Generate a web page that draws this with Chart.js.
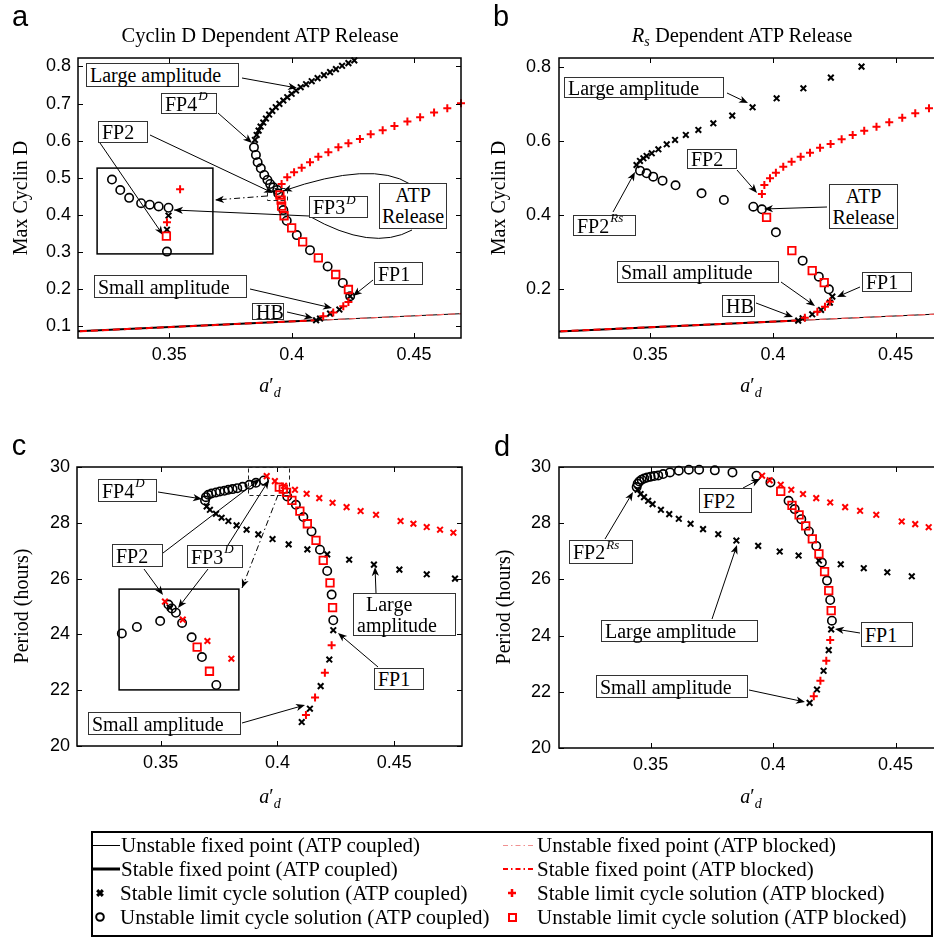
<!DOCTYPE html>
<html><head><meta charset="utf-8">
<script src="https://cdn.jsdelivr.net/npm/chart.js@4.4.1/dist/chart.umd.min.js"></script>
<style>
html,body{margin:0;padding:0;background:#fff;}
body{width:934px;height:939px;overflow:hidden;position:relative;font-family:"Liberation Serif","Times New Roman",serif;color:#000;}
canvas{position:absolute;}
.t{position:absolute;white-space:nowrap;line-height:1;transform:translate(-50%,-50%);z-index:5;}
.rot{transform:translate(-50%,-50%) rotate(-90deg);}
.letter{font-family:"Liberation Sans",Arial,sans-serif;font-size:29px;}
.title{font-size:20.5px;}
.lab{font-size:20px;}
.box{position:absolute;box-sizing:border-box;border:1px solid #333;background:#fff;font-size:20px;display:flex;align-items:center;padding-left:3px;white-space:nowrap;line-height:1;z-index:5;}
.box.c2{flex-direction:column;justify-content:center;align-items:center;padding-left:0;line-height:1.05;}
.box.l2{flex-direction:column;justify-content:center;align-items:flex-start;line-height:1.05;}
.sup{font-size:13px;font-style:italic;position:relative;top:-8px;margin-left:1px;}
.sub{font-size:14px;font-style:italic;position:relative;top:5px;}
#legend{position:absolute;left:91px;top:831px;width:842px;height:106px;box-sizing:border-box;border:2px solid #000;z-index:4;}
.lt{position:absolute;font-size:21px;white-space:nowrap;line-height:1;transform:translateY(-50%);}
</style>
</head>
<body>
<canvas id="ca" width="470" height="400" style="left:0;top:0;z-index:1"></canvas>
<canvas id="cb" width="480" height="400" style="left:470px;top:0;z-index:1"></canvas>
<canvas id="cc" width="470" height="400" style="left:0;top:400px;z-index:1"></canvas>
<canvas id="cd" width="480" height="400" style="left:470px;top:400px;z-index:1"></canvas>
<canvas id="ia" width="130" height="100" style="left:90px;top:161px;z-index:2"></canvas>
<canvas id="ic" width="134" height="115" style="left:112px;top:582px;z-index:2"></canvas>
<div id="legend"><canvas id="lg" width="838" height="102" style="left:0;top:0"></canvas></div>
<script>
// ================= DATA =================
const xTickValues = [0.35, 0.4, 0.45];
const xTickLabels = ['0.35', '0.4', '0.45'];
const yTickValuesA = [0.1, 0.2, 0.3, 0.4, 0.5, 0.6, 0.7, 0.8];
const yTickLabelsA = ['0.1', '0.2', '0.3', '0.4', '0.5', '0.6', '0.7', '0.8'];
const yTickValuesB = [0.2, 0.4, 0.6, 0.8];
const yTickLabelsB = ['0.2', '0.4', '0.6', '0.8'];
const yTickValuesCD = [20, 22, 24, 26, 28, 30];
const yTickLabelsCD = ['20', '22', '24', '26', '28', '30'];

// fixed point branch (Max Cyclin D vs a'_d), HB at 0.41
const fixedStable = [[0.300, 0.0826], [0.410, 0.1160]];
const fixedUnstable = [[0.410, 0.1160], [0.480, 0.1372]];

// ---- panel a: Cyclin D dependent, Max Cyclin D ----
const aStableCoupled = [[0.3850,0.602],[0.3857,0.6155],[0.3865,0.627],[0.3873,0.638],[0.3884,0.6488],[0.3895,0.6596],[0.3908,0.6704],[0.3921,0.6803],[0.3935,0.6902],[0.3950,0.6992],[0.3966,0.7082],[0.3982,0.7172],[0.4000,0.7262],[0.4018,0.7351],[0.4037,0.7441],[0.4059,0.7522],[0.4082,0.7603],[0.4106,0.7684],[0.4132,0.7765],[0.4157,0.7846],[0.4181,0.7927],[0.4206,0.8017],[0.4232,0.8089],[0.4256,0.8161],
  [0.4100,0.1160],[0.4116,0.1208],[0.4157,0.1340],[0.4195,0.1450],[0.4239,0.1810]];
const aUnstableCoupled = [[0.3846,0.582],[0.3854,0.5616],[0.3861,0.5418],[0.3874,0.5256],[0.3888,0.5076],[0.3901,0.4941],[0.3912,0.4833],[0.3925,0.4743],[0.3941,0.4671],[0.3945,0.4580],
  [0.3966,0.4131],[0.3980,0.3842],[0.4021,0.3456],[0.4075,0.3051],[0.4147,0.2611],[0.4209,0.2169],[0.4239,0.1810]];
const aStableBlocked = [[0.3959,0.4832],[0.3982,0.5012],[0.4010,0.5147],[0.4041,0.5273],[0.4075,0.5417],[0.4109,0.5570],[0.4150,0.5687],[0.4191,0.5822],[0.4232,0.5930],[0.4279,0.6047],[0.4323,0.6173],[0.4372,0.6281],[0.4420,0.6398],[0.4473,0.6515],[0.4525,0.6632],[0.4582,0.6758],[0.4636,0.6875],[0.4692,0.7010],
  [0.4129,0.1270],[0.4170,0.1370],[0.4211,0.1540],[0.4232,0.1656]];
const aUnstableBlocked = [[0.3952,0.4536],[0.3957,0.4400],[0.3959,0.4239],[0.3969,0.3977],[0.4000,0.3653],[0.4045,0.3275],[0.4109,0.2843],[0.4180,0.2395],[0.4232,0.1990]];
// inset of panel a (magnified region near FP2 / FP3^D)
const aInsetUnstableCoupled = [[0.39077,0.4840],[0.39120,0.4785],[0.39166,0.4744],[0.39228,0.4716],[0.39273,0.4708],[0.39319,0.4699],[0.39370,0.4692],[0.39362,0.4462]];
const aInsetStableCoupled = [[0.39370,0.4651],[0.39362,0.4577]];
const aInsetStableBlocked = [[0.39362,0.4616],[0.39430,0.4789]];
const aInsetUnstableBlocked = [[0.39359,0.4543]];

// ---- panel b: Rs dependent, Max Cyclin D ----
const bStableCoupled = [[0.3444,0.5350],[0.3458,0.5458],[0.3472,0.5530],[0.3485,0.5593],[0.3506,0.5665],[0.3533,0.5773],[0.3567,0.5908],[0.3601,0.6024],[0.3645,0.6159],[0.3696,0.6294],[0.3757,0.6474],[0.3834,0.6680],[0.3917,0.6905],[0.4015,0.7148],[0.4124,0.7417],[0.4236,0.7705],[0.4361,0.8001],
  [0.4103,0.1155],[0.4121,0.1218],[0.4160,0.1325],[0.4196,0.1442],[0.4232,0.1640],[0.4242,0.1802]];
const bUnstableCoupled = [[0.3458,0.5198],[0.3485,0.5126],[0.3512,0.5036],[0.3550,0.4928],[0.3603,0.4803],[0.3709,0.4587],[0.3800,0.4407],[0.3920,0.4227],[0.3955,0.4156],[0.4012,0.3536],[0.4121,0.2772],[0.4187,0.2341],[0.4228,0.1999]];
const bStableBlocked = [[0.3955,0.4569],[0.3965,0.4812],[0.3988,0.4991],[0.4012,0.5144],[0.4042,0.5306],[0.4076,0.5440],[0.4113,0.5575],[0.4151,0.5683],[0.4192,0.5818],[0.4235,0.5917],[0.4280,0.6042],[0.4325,0.6159],[0.4372,0.6276],[0.4422,0.6384],[0.4474,0.6501],[0.4527,0.6626],[0.4580,0.6743],[0.4636,0.6878],
  [0.4130,0.1236],[0.4181,0.1397],[0.4212,0.1532],[0.4232,0.1667]];
const bUnstableBlocked = [[0.3974,0.3940],[0.4077,0.3042],[0.4160,0.2502],[0.4209,0.2179]];

// ---- panel c: Cyclin D dependent, Period (hours) ----
const cUnstableCoupled = [[0.3690,28.801],[0.3694,28.920],[0.3704,29.004],[0.3718,29.052],[0.3737,29.087],[0.3754,29.123],[0.3773,29.147],[0.3790,29.183],[0.3808,29.207],[0.3828,29.242],[0.3851,29.290],[0.3880,29.362],[0.3908,29.433],[0.3942,29.517],
  [0.4042,28.944],[0.4079,28.646],[0.4111,28.205],[0.4146,27.692],[0.4182,27.036],[0.4213,26.273],[0.4232,25.426],[0.4239,24.508]];
const cStableCoupled = [[0.3697,28.587],[0.3711,28.467],[0.3737,28.324],[0.3761,28.181],[0.3790,28.062],[0.3825,27.907],[0.3868,27.752],[0.3918,27.585],[0.3979,27.418],[0.4048,27.227],[0.4128,27.048],[0.4213,26.869],[0.4307,26.678],[0.4413,26.500],[0.4522,26.321],[0.4639,26.154],[0.4760,25.998],
  [0.4239,24.150],[0.4222,23.100],[0.4185,22.147],[0.4139,21.336],[0.4104,20.859]];
const cStableBlockedLarge = [[0.3954,29.672],[0.3989,29.493],[0.4028,29.326],[0.4075,29.183],[0.4125,29.040],[0.4179,28.885],[0.4236,28.718],[0.4296,28.563],[0.4356,28.420],[0.4422,28.288],[0.4527,28.062],[0.4582,27.966],[0.4639,27.847],[0.4696,27.752],[0.4753,27.644]];
const cStableBlockedSmall = [[0.4232,23.613],[0.4203,22.624],[0.4161,21.741],[0.4122,21.109]];
const cUnstableBlocked = [[0.4008,29.278],[0.4025,29.207],[0.4039,29.088],[0.4062,28.801],[0.4096,28.420],[0.4128,27.966],[0.4165,27.370],[0.4196,26.655],[0.4225,25.844],[0.4236,24.961]];
// inset of panel c (magnified region near the peak)
const cInsetUnstableCoupled = [[0.3879,29.556],[0.3901,29.621],[0.3935,29.680],[0.3947,29.845],[0.3952,29.806],[0.3958,29.763],[0.3967,29.661],[0.3981,29.517],[0.3996,29.319],[0.4017,29.039]];
const cInsetStableCoupled = [[0.3949,29.815]];
const cInsetStableBlockedLarge = [[0.3942,29.875],[0.3968,29.694],[0.4004,29.480],[0.4039,29.303]];
const cInsetUnstableBlocked = [[0.3989,29.418],[0.4007,29.177]];

// ---- panel d: Rs dependent, Period (hours) ----
const dUnstableCoupled = [[0.3443,29.285],[0.3447,29.404],[0.3454,29.487],[0.3463,29.547],[0.3474,29.594],[0.3486,29.630],[0.3500,29.654],[0.3515,29.678],[0.3531,29.701],[0.3551,29.749],[0.3579,29.808],[0.3615,29.868],[0.3656,29.904],[0.3698,29.904],[0.3762,29.880],[0.3834,29.808],[0.3932,29.690],[0.3989,29.452],
  [0.4063,28.798],[0.4088,28.501],[0.4115,28.144],[0.4146,27.704],[0.4176,27.193],[0.4199,26.599],[0.4220,25.957],[0.4233,25.267],[0.4240,24.530]];
const dStableCoupled = [[0.3447,29.190],[0.3459,29.036],[0.3473,28.929],[0.3490,28.798],[0.3508,28.679],[0.3542,28.477],[0.3576,28.323],[0.3615,28.156],[0.3663,27.978],[0.3714,27.788],[0.3776,27.609],[0.3850,27.383],[0.3939,27.193],[0.4027,26.991],[0.4104,26.848],[0.4187,26.670],[0.4276,26.539],[0.4370,26.397],[0.4466,26.254],[0.4566,26.111],
  [0.4237,24.221],[0.4227,23.484],[0.4206,22.747],[0.4179,22.081],[0.4149,21.606]];
const dStableBlockedLarge = [[0.3955,29.690],[0.3986,29.523],[0.4031,29.369],[0.4074,29.190],[0.4122,29.036],[0.4176,28.893],[0.4233,28.739],[0.4294,28.572],[0.4355,28.441],[0.4421,28.299],[0.4525,28.061],[0.4580,27.966],[0.4635,27.859]];
const dStableBlockedSmall = [[0.4233,23.841],[0.4217,23.104],[0.4193,22.391],[0.4166,21.844]];
const dUnstableBlocked = [[0.4031,29.131],[0.4077,28.632],[0.4106,28.299],[0.4133,27.906],[0.4160,27.443],[0.4187,26.908],[0.4210,26.278],[0.4227,25.600],[0.4237,24.887]];

// ================= STYLES / HELPERS =================
const RED = '#ff0000';
const ST = {
  xBlack: {ps:'crossRot', r:4, bw:2, c:'#000'},
  oBlack: {ps:'circle', r:4.2, bw:1.6, c:'#000'},
  plusRed: {ps:'cross', r:4, bw:2, c:RED},
  xRed: {ps:'crossRot', r:4, bw:2, c:RED},
  sqRed: {ps:'rect', r:5.3, bw:1.8, c:RED}
};
function P(arr){ return arr.map(p => ({x:p[0], y:p[1]})); }
function sc(arr, st){ return {data:P(arr), showLine:false, clip:false, pointStyle:st.ps, pointRadius:st.r, pointHoverRadius:st.r, pointBorderWidth:st.bw, pointBorderColor:st.c, pointBackgroundColor:'rgba(0,0,0,0)'}; }
function ln(arr, color, w, dash){ return {data:P(arr), showLine:true, borderColor:color, borderWidth:w, borderDash:dash||[], pointRadius:0, pointHoverRadius:0}; }

// ================= ANNOTATIONS (page pixel positions) =================
const ANN = {
  a: {
    arrows: [[242,78,297,88],[218,113,252,143],[150,135,273,193],[100,143,163,235],[250,289,332,308],[287,312,313,318],[373,280,353,296]],
    curves: [{p:[[410,184],[372,160],[283,191]], head:true}, {p:[[412,230],[372,252],[309,216]], then:[174,210]}],
    dashRects: [[267,188,287,200]],
    dashArrows: [[267,196,215,200]]
  },
  b: { arrows: [[727,93,748,103],[737,170,757,193],[827,207,764,209],[613,212,635,172],[781,282,815,306],[756,303,793,317],[860,287,837,297]] },
  c: {
    arrows: [[158,492,202,499],[163,553,260,479],[144,569,163,595],[228,545,269,480],[208,569,178,608],[376,593,375,567],[378,667,338,633],[242,723,305,705]],
    dashRects: [[248,467,289,495]],
    dashArrows: [[278,495,242,588]]
  },
  d: { arrows: [[743,488,760,479],[605,539,633,492],[712,619,737,545],[860,633,835,629],[749,690,805,702]] }
};

function arrowHead(ctx, x0, y0, x1, y1){
  const a = Math.atan2(y1-y0, x1-x0), c = Math.cos(a), s = Math.sin(a);
  const L = 9, W = 3.6, B = 6.5;
  ctx.beginPath();
  ctx.moveTo(x1, y1);
  ctx.lineTo(x1 - L*c + W*s, y1 - L*s - W*c);
  ctx.lineTo(x1 - B*c, y1 - B*s);
  ctx.lineTo(x1 - L*c - W*s, y1 - L*s + W*c);
  ctx.closePath(); ctx.fill();
}

const framePlugin = {
  id: 'frame',
  afterDatasetsDraw(chart, args, opts){
    const {ctx, chartArea:a} = chart;
    const xs = chart.scales.x, ys = chart.scales.y;
    ctx.save(); ctx.strokeStyle = '#000';
    if (opts.ticks) {
      ctx.lineWidth = 1; ctx.beginPath();
      xs.ticks.forEach(t => { const p = Math.round(xs.getPixelForValue(t.value)) + 0.5;
        ctx.moveTo(p, a.bottom); ctx.lineTo(p, a.bottom - 5); ctx.moveTo(p, a.top); ctx.lineTo(p, a.top + 5); });
      ys.ticks.forEach(t => { const p = Math.round(ys.getPixelForValue(t.value)) + 0.5;
        ctx.moveTo(a.left, p); ctx.lineTo(a.left + 5, p); ctx.moveTo(a.right, p); ctx.lineTo(a.right - 5, p); });
      ctx.stroke();
    }
    ctx.lineWidth = opts.lw || 1.5;
    ctx.strokeRect(a.left, a.top, a.right - a.left, a.bottom - a.top);
    ctx.restore();
  }
};

const annotPlugin = {
  id: 'annot',
  afterDraw(chart, args, opts){
    const def = ANN[opts.key]; if (!def) return;
    const ox = opts.ox, oy = opts.oy, ctx = chart.ctx;
    const X = v => v - ox, Y = v => v - oy;
    ctx.save();
    ctx.strokeStyle = '#000'; ctx.fillStyle = '#000'; ctx.lineWidth = 1;
    (def.arrows || []).forEach(([x0,y0,x1,y1]) => {
      const a = Math.atan2(y1-y0, x1-x0);
      ctx.beginPath(); ctx.moveTo(X(x0), Y(y0)); ctx.lineTo(X(x1) - 6*Math.cos(a), Y(y1) - 6*Math.sin(a)); ctx.stroke();
      arrowHead(ctx, X(x0), Y(y0), X(x1), Y(y1));
    });
    (def.curves || []).forEach(cv => {
      const [p0, p1, p2] = cv.p;
      ctx.beginPath(); ctx.moveTo(X(p0[0]), Y(p0[1]));
      ctx.quadraticCurveTo(X(p1[0]), Y(p1[1]), X(p2[0]), Y(p2[1]));
      if (cv.then) ctx.lineTo(X(cv.then[0]), Y(cv.then[1]));
      ctx.stroke();
      if (cv.head) arrowHead(ctx, X(p1[0]), Y(p1[1]), X(p2[0]), Y(p2[1]));
      if (cv.then) arrowHead(ctx, X(p2[0]), Y(p2[1]), X(cv.then[0]), Y(cv.then[1]));
    });
    ctx.setLineDash([4, 3]); ctx.strokeStyle = '#222';
    (def.dashRects || []).forEach(([l,t,r,b]) => { ctx.strokeRect(X(l)+0.5, Y(t)+0.5, r-l, b-t); });
    ctx.setLineDash([6, 3, 1.5, 3]); ctx.strokeStyle = '#000';
    (def.dashArrows || []).forEach(([x0,y0,x1,y1]) => {
      ctx.beginPath(); ctx.moveTo(X(x0), Y(y0)); ctx.lineTo(X(x1), Y(y1)); ctx.stroke();
      ctx.setLineDash([]); arrowHead(ctx, X(x0), Y(y0), X(x1), Y(y1)); ctx.setLineDash([6, 3, 1.5, 3]);
    });
    ctx.restore();
  }
};

function axis(a, isX){
  if (a.hidden) return {type:'linear', display:false, min:a.min, max:a.max};
  return {
    type:'linear', position: isX ? 'bottom' : 'left', min:a.min, max:a.max,
    grid:{display:false, drawTicks:false}, border:{display:false},
    afterBuildTicks: s => { s.ticks = a.ticks.map(v => ({value:v})); },
    afterFit: s => { if (isX) s.height = a.size; else s.width = a.size; },
    ticks:{autoSkip:false, maxRotation:0, minRotation:0, padding:a.pad, color:'#000',
      font:{family:'"Liberation Sans", Arial, Helvetica, sans-serif', size:18},
      callback:(v, i) => a.labels[i]}
  };
}

function makeChart(id, o){
  return new Chart(document.getElementById(id), {
    type:'scatter',
    data:{datasets:o.datasets},
    options:{
      responsive:false, animation:false, devicePixelRatio:1, events:[],
      layout:{padding:o.padding},
      plugins:{legend:{display:false}, tooltip:{enabled:false}, title:{display:false},
        frame:{ticks:o.frameTicks !== false, lw:o.lw || 1.5},
        annot:{key:o.key || '', ox:o.ox || 0, oy:o.oy || 0}},
      scales:{x:axis(o.x, true), y:axis(o.y, false)}
    },
    plugins:[framePlugin, annotPlugin]
  });
}

function fixedLines(){
  return [
    ln(fixedStable, RED, 2, [7, 4]),
    ln(fixedUnstable, '#ff6060', 1.2, [7, 4]),
    ln(fixedStable, '#000', 2),
    ln(fixedUnstable, '#000', 1)
  ];
}

// ---- panel a ----
makeChart('ca', {
  key:'a', ox:0, oy:0,
  padding:{left:0, top:58, right:9, bottom:0},
  x:{min:0.3127, max:0.4692, ticks:xTickValues, labels:xTickLabels, size:62, pad:6},
  y:{min:0.0684, max:0.8227, ticks:yTickValuesA, labels:yTickLabelsA, size:78, pad:7},
  datasets:[
    sc(aStableBlocked, ST.plusRed), sc(aUnstableBlocked, ST.sqRed),
    sc(aStableCoupled, ST.xBlack), sc(aUnstableCoupled, ST.oBlack),
    ...fixedLines()
  ]
});
// ---- panel b ----
makeChart('cb', {
  key:'b', ox:470, oy:0,
  padding:{left:0, top:58, right:8, bottom:0},
  x:{min:0.3128, max:0.4689, ticks:xTickValues, labels:xTickLabels, size:62, pad:6},
  y:{min:0.0687, max:0.8234, ticks:yTickValuesB, labels:yTickLabelsB, size:89, pad:8},
  datasets:[
    sc(bStableBlocked, ST.plusRed), sc(bUnstableBlocked, ST.sqRed),
    sc(bStableCoupled, ST.xBlack), sc(bUnstableCoupled, ST.oBlack),
    ...fixedLines()
  ]
});
// ---- panel c ----
makeChart('cc', {
  key:'c', ox:0, oy:400,
  padding:{left:0, top:67, right:8, bottom:0},
  x:{min:0.3142, max:0.4790, ticks:xTickValues, labels:xTickLabels, size:54, pad:6},
  y:{min:20, max:30, ticks:yTickValuesCD, labels:yTickLabelsCD, size:77, pad:7},
  datasets:[
    sc(cStableBlockedLarge, ST.xRed), sc(cStableBlockedSmall, ST.plusRed), sc(cUnstableBlocked, ST.sqRed),
    sc(cStableCoupled, ST.xBlack), sc(cUnstableCoupled, ST.oBlack)
  ]
});
// ---- panel d ----
makeChart('cd', {
  key:'d', ox:470, oy:400,
  padding:{left:0, top:67, right:6, bottom:0},
  x:{min:0.3126, max:0.4693, ticks:xTickValues, labels:xTickLabels, size:52, pad:6},
  y:{min:20, max:30, ticks:yTickValuesCD, labels:yTickLabelsCD, size:89, pad:8},
  datasets:[
    sc(dStableBlockedLarge, ST.xRed), sc(dStableBlockedSmall, ST.plusRed), sc(dUnstableBlocked, ST.sqRed),
    sc(dStableCoupled, ST.xBlack), sc(dUnstableCoupled, ST.oBlack)
  ]
});
// ---- insets ----
makeChart('ia', {
  frameTicks:false, padding:6,
  x:{hidden:true, min:0.3900, max:0.3960}, y:{hidden:true, min:0.445, max:0.490},
  datasets:[
    sc(aInsetStableBlocked, ST.plusRed), sc(aInsetUnstableBlocked, ST.sqRed),
    sc(aInsetStableCoupled, ST.xBlack), sc(aInsetUnstableCoupled, ST.oBlack)
  ]
});
makeChart('ic', {
  frameTicks:false, padding:6,
  x:{hidden:true, min:0.3875, max:0.4050}, y:{hidden:true, min:28.99, max:30.0},
  datasets:[
    sc(cInsetStableBlockedLarge, ST.xRed), sc(cInsetUnstableBlocked, ST.sqRed),
    sc(cInsetStableCoupled, ST.xBlack), sc(cInsetUnstableCoupled, ST.oBlack)
  ]
});

// ================= TEXT =================
function addText(html, cx, cy, cls){
  const d = document.createElement('div');
  d.className = 't ' + cls; d.innerHTML = html;
  d.style.left = cx + 'px'; d.style.top = cy + 'px';
  document.body.appendChild(d);
}
function addBox(l, t, r, b, html, cls){
  const d = document.createElement('div');
  d.className = 'box' + (cls ? ' ' + cls : ''); d.innerHTML = html;
  d.style.left = l + 'px'; d.style.top = t + 'px';
  d.style.width = (r - l) + 'px'; d.style.height = (b - t) + 'px';
  document.body.appendChild(d);
}
addText('a', 20, 16, 'letter'); addText('b', 501, 16, 'letter');
addText('c', 19, 445, 'letter'); addText('d', 502, 446, 'letter');
addText('Cyclin D Dependent ATP Release', 260, 35, 'title');
addText('<i>R<span class="sub" style="font-size:14px;top:4px">s</span></i> Dependent ATP Release', 742, 35, 'title');
addText('Max Cyclin D', 19.5, 198, 'lab rot'); addText('Max Cyclin D', 497.5, 198, 'lab rot');
addText('Period (hours)', 21, 606, 'lab rot'); addText('Period (hours)', 503, 607, 'lab rot');
const xl = '<i>a</i>′<span class="sub">d</span>';
addText(xl, 270, 385, 'lab'); addText(xl, 751, 385, 'lab');
addText(xl, 270, 796, 'lab'); addText(xl, 751, 796, 'lab');

const FP4D = 'FP4<span class="sup">D</span>', FP3D = 'FP3<span class="sup">D</span>', FP2RS = 'FP2<span class="sup">Rs</span>';
const ATPR = '<div>ATP</div><div>Release</div>';
// panel a
addBox(86,63,239,87,'Large amplitude'); addBox(161,93,217,114,FP4D); addBox(98,121,148,143,'FP2');
addBox(379,183,447,229,ATPR,'c2'); addBox(309,196,368,218,FP3D); addBox(94,275,247,298,'Small amplitude');
addBox(252,303,284,320,'HB'); addBox(374,262,423,285,'FP1');
// panel b
addBox(564,77,724,98,'Large amplitude'); addBox(687,149,737,169,'FP2'); addBox(829,184,898,229,ATPR,'c2');
addBox(573,215,636,236,FP2RS); addBox(617,261,779,283,'Small amplitude'); addBox(722,295,755,317,'HB'); addBox(862,272,912,292,'FP1');
// panel c
addBox(98,479,157,502,FP4D); addBox(112,544,163,567,'FP2'); addBox(187,545,243,568,FP3D);
addBox(353,593,456,636,'<div style="padding-left:9px">Large</div><div>amplitude</div>','l2');
addBox(374,668,424,690,'FP1'); addBox(88,712,241,735,'Small amplitude');
// panel d
addBox(699,488,752,513,'FP2'); addBox(569,540,633,564,FP2RS); addBox(601,620,758,642,'Large amplitude');
addBox(861,622,913,647,'FP1'); addBox(596,675,748,698,'Small amplitude');

// ================= LEGEND =================
const legendItems = [
  ['Unstable fixed point (ATP coupled)', 121, 845], ['Stable fixed point (ATP coupled)', 121, 869],
  ['Stable limit cycle solution (ATP coupled)', 120, 893], ['Unstable limit cycle solution (ATP coupled)', 120, 917],
  ['Unstable fixed point (ATP blocked)', 537, 845], ['Stable fixed point (ATP blocked)', 537, 869],
  ['Stable limit cycle solution (ATP blocked)', 537, 893], ['Unstable limit cycle solution (ATP blocked)', 537, 917]
];
const lgDiv = document.getElementById('legend');
legendItems.forEach(([s, x, y]) => {
  const d = document.createElement('div'); d.className = 'lt'; d.textContent = s;
  d.style.left = (x - 93) + 'px'; d.style.top = (y - 833) + 'px'; lgDiv.appendChild(d);
});
(function(){
  const ctx = document.getElementById('lg').getContext('2d');
  const OX = 93, OY = 833;
  const X = v => v - OX, Y = v => v - OY;
  ctx.strokeStyle = '#000';
  ctx.lineWidth = 1; ctx.beginPath(); ctx.moveTo(X(92), Y(845)+0.5); ctx.lineTo(X(120), Y(845)+0.5); ctx.stroke();
  ctx.lineWidth = 3; ctx.beginPath(); ctx.moveTo(X(92), Y(869)); ctx.lineTo(X(120), Y(869)); ctx.stroke();
  const h = Chart.helpers;
  h.drawPoint(ctx, {pointStyle:'crossRot', radius:4, borderWidth:2.5, rotation:0}, X(100), Y(893));
  ctx.lineWidth = 2; ctx.beginPath(); ctx.arc(X(100), Y(917), 3.8, 0, Math.PI*2); ctx.stroke();
  ctx.setLineDash([5, 3, 1.5, 3]);
  ctx.strokeStyle = '#f09090'; ctx.lineWidth = 1; ctx.beginPath(); ctx.moveTo(X(503), Y(845)+0.5); ctx.lineTo(X(535), Y(845)+0.5); ctx.stroke();
  ctx.strokeStyle = RED; ctx.lineWidth = 2; ctx.beginPath(); ctx.moveTo(X(503), Y(869)); ctx.lineTo(X(535), Y(869)); ctx.stroke();
  ctx.setLineDash([]);
  ctx.strokeStyle = RED; ctx.fillStyle = 'rgba(0,0,0,0)';
  ctx.lineWidth = 2.5; ctx.beginPath(); ctx.moveTo(X(508), Y(893)); ctx.lineTo(X(516), Y(893)); ctx.moveTo(X(512), Y(889)); ctx.lineTo(X(512), Y(897)); ctx.stroke();
  ctx.lineWidth = 2; ctx.strokeRect(X(509), Y(914), 7, 7);
})();
</script>
</body></html>
